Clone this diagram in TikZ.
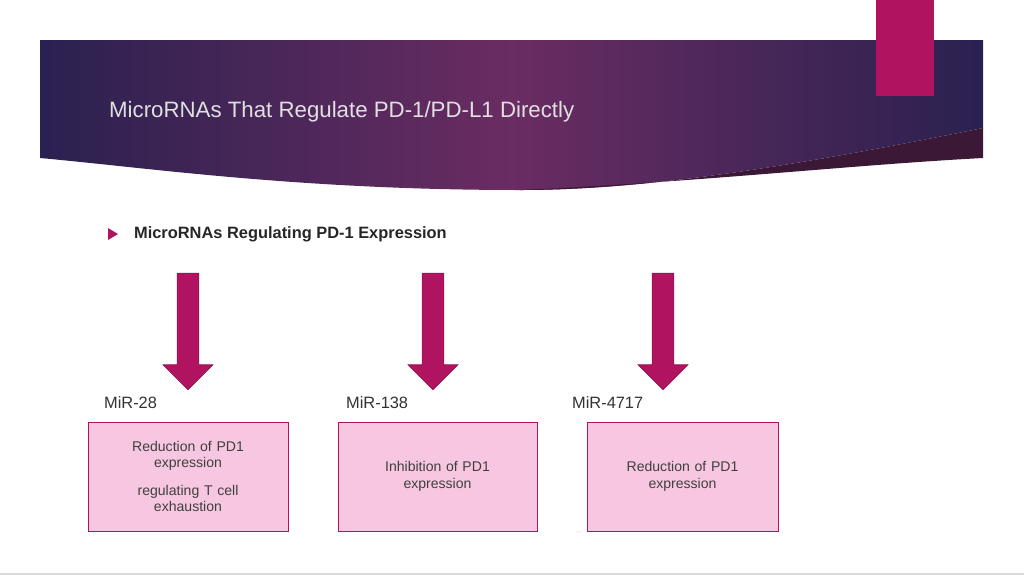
\documentclass[tikz,border=0pt]{standalone}
\usepackage{fontspec}
\setmainfont{Liberation Sans}
\usetikzlibrary{positioning, shapes.arrows}
\definecolor{magent}{HTML}{B0135F}
\definecolor{boxpink}{HTML}{F7C6E0}
\definecolor{banA}{HTML}{2A2150}
\definecolor{banB}{HTML}{6A2C62}
\tikzset{
  mirbox/.style={draw=magent, fill=boxpink, line width=0.8pt, minimum width=6cm,
    minimum height=3.27cm, text width=5cm, align=center, font=\fontsize{12}{14}\selectfont, text=black!75},
  mirlabel/.style={anchor=west, font=\fontsize{14}{16}\selectfont, text=black!80},
  downarrow/.style={single arrow, fill=magent, draw=magent!80!black, line width=0.5pt,
    shape border rotate=270, minimum height=3.5cm, minimum width=1.5cm,
    single arrow head extend=0.4cm, inner sep=0.3cm}
}
\begin{document}
\begin{tikzpicture}[x=0.03cm,y=-0.03cm]
		\useasboundingbox (0,0) rectangle (1024,576);
		\fill[white] (0,0) rectangle (1024,576);
		\draw[black!15, line width=1pt] (0,574) -- (1024,574);
		% banner
		\shade[left color=banA, right color=banA, middle color=banB]
		(40,40) -- (983,40) -- (983,128) .. controls (800,165) and (650,190) .. (520,190)
		.. controls (300,190) and (150,168) .. (40,158) -- cycle;
		\fill[black!45!banB] (983,128) .. controls (800,165) and (650,190) .. (520,190)
		.. controls (700,182) and (850,165) .. (983,158) -- cycle;
		\fill[magent] (876,0) rectangle (934,96);
		\node (Title) at (105,112) [anchor=west, text=white!88!black,
		font=\fontsize{19}{22}\selectfont]{MicroRNAs That Regulate PD-1/PD-L1 Directly};
		% heading
		\fill[magent] (108,228) -- (118,234) -- (108,240) -- cycle;
		\node (Heading) at (130,234) [anchor=west, text=black!85,
		font=\bfseries\fontsize{14}{16}\selectfont]{MicroRNAs Regulating PD-1 Expression};
		% arrows
		\node (Arrow1) at (188,326) [downarrow]{};
		\node (Arrow2) at (433,326) [downarrow]{};
		\node (Arrow3) at (663,326) [downarrow]{};
		% labels and boxes
		\node (MiR28) at (100,403) [mirlabel]{MiR-28};
		\node (MiR138) at (342,403) [mirlabel]{MiR-138};
		\node (MiR4717) at (568,403) [mirlabel]{MiR-4717};
		\node (Box1) at (188,476.5) [mirbox, minimum width=6cm]{Reduction of PD1\\expression\\[0.8em]regulating T cell\\exhaustion};
		\node (Box2) at (437.5,476.5) [mirbox, minimum width=5.97cm]{Inhibition of PD1\\expression};
		\node (Box3) at (682.5,476.5) [mirbox, minimum width=5.73cm]{Reduction of PD1\\expression};
\end{tikzpicture}
\end{document}
